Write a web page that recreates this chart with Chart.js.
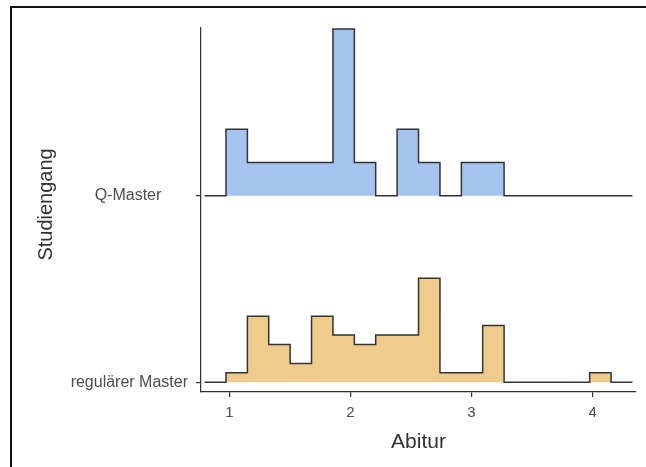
<!DOCTYPE html>
<html>
<head>
<meta charset="utf-8">
<script src="https://cdn.jsdelivr.net/npm/chart.js@4/dist/chart.umd.min.js"></script>
<style>
  body { margin: 0; background: #fff; }
  #wrap { position: relative; width: 646px; height: 467px; }
  #frame { position: absolute; left: 10px; top: 6px; right: 0; bottom: 0;
           border-left: 2px solid #111; border-top: 2px solid #111; pointer-events: none; }
</style>
</head>
<body>
<div id="wrap">
  <canvas id="ridges" width="646" height="467"></canvas>
  <div id="frame"></div>
</div>
<script>
// bin edges of the histogram (Abitur grade), incl. one empty bin on each side
const binEdges = [0.794, 0.971, 1.148, 1.324, 1.501, 1.678, 1.855, 2.032, 2.208, 2.385, 2.562,
                  2.739, 2.916, 3.092, 3.269, 3.446, 3.623, 3.800, 3.976, 4.153, 4.330]

// counts per bin
const qMasterCounts  = [0, 2, 1, 1, 1, 1, 5, 1, 0, 2, 1, 0, 1, 1, 0, 0, 0, 0, 0, 0]
const regulaerCounts = [0, 1, 7, 4, 2, 7, 5, 4, 5, 5, 11, 1, 1, 6, 0, 0, 0, 0, 1, 0]

const groups = ["regulärer Master", "Q-Master"]   // y position 1, 2
const xTicks = [1, 2, 3, 4]
const ridgeScale = 3.04   // height of a density of 1, in y units

// turn counts into a stepped outline sitting on the group baseline
function ridge(counts, base) {
    let total = counts.reduce((a, b) => a + b, 0)
    let pts = []
    for (var k = 0; k < counts.length; k++) {
        pts.push({ x: binEdges[k], y: base + counts[k] / total * ridgeScale })
    }
    pts.push({ x: binEdges[counts.length], y: base })
    return pts
}

const ink = "#333333"
const tickInk = "#4d4d4d"

new Chart(document.getElementById("ridges"), {
    type: "line",
    data: {
        datasets: [{
            label: groups[1],
            data: ridge(qMasterCounts, 2),
            stepped: "before",
            borderColor: ink,
            borderWidth: 1.5,
            backgroundColor: "#a4c3ef",
            fill: { value: 2 },
            pointRadius: 0,
            clip: false
        },
        {
            label: groups[0],
            data: ridge(regulaerCounts, 1),
            stepped: "before",
            borderColor: ink,
            borderWidth: 1.5,
            backgroundColor: "#efcc8b",
            fill: { value: 1 },
            pointRadius: 0,
            clip: false
        }]
    },
    options: {
        responsive: false,
        animation: false,
        layout: { padding: { left: 0, top: 28, right: 10, bottom: 0 } },
        plugins: { legend: { display: false }, tooltip: { enabled: false } },
        scales: {
            x: {
                type: "linear",
                min: 0.7645,
                max: 4.359,
                afterBuildTicks: s => { s.ticks = xTicks.map(v => ({ value: v })) },
                afterFit: s => { s.height = 75 },
                border: { display: true, color: ink, width: 1.2 },
                grid: { drawOnChartArea: false, drawTicks: true, tickLength: 5, color: ink, lineWidth: 1.2 },
                ticks: { color: tickInk, font: { family: "Liberation Sans", size: 15 }, padding: 7, maxRotation: 0 },
                title: { display: true, text: "Abitur", color: ink,
                         font: { family: "Liberation Sans", size: 21 }, padding: { top: 0, bottom: 12 } }
            },
            y: {
                type: "linear",
                min: 0.948,
                max: 2.9,
                afterBuildTicks: s => { s.ticks = [{ value: 1 }, { value: 2 }] },
                afterFit: s => { s.width = 201 },
                border: { display: true, color: ink, width: 1.2 },
                grid: { drawOnChartArea: false, drawTicks: true, tickLength: 5, color: ink, lineWidth: 1.2 },
                ticks: {
                    color: tickInk,
                    font: { family: "Liberation Sans", size: 16 },
                    padding: 8,
                    // Q-Master label sits further from the axis in the original
                    callback: v => v === 2 ? groups[1] + "      " : groups[0]
                },
                title: { display: true, text: "  Studiengang", color: ink,
                         font: { family: "Liberation Sans", size: 20 }, padding: { top: 34, bottom: 0 } }
            }
        }
    }
})
</script>
</body>
</html>
